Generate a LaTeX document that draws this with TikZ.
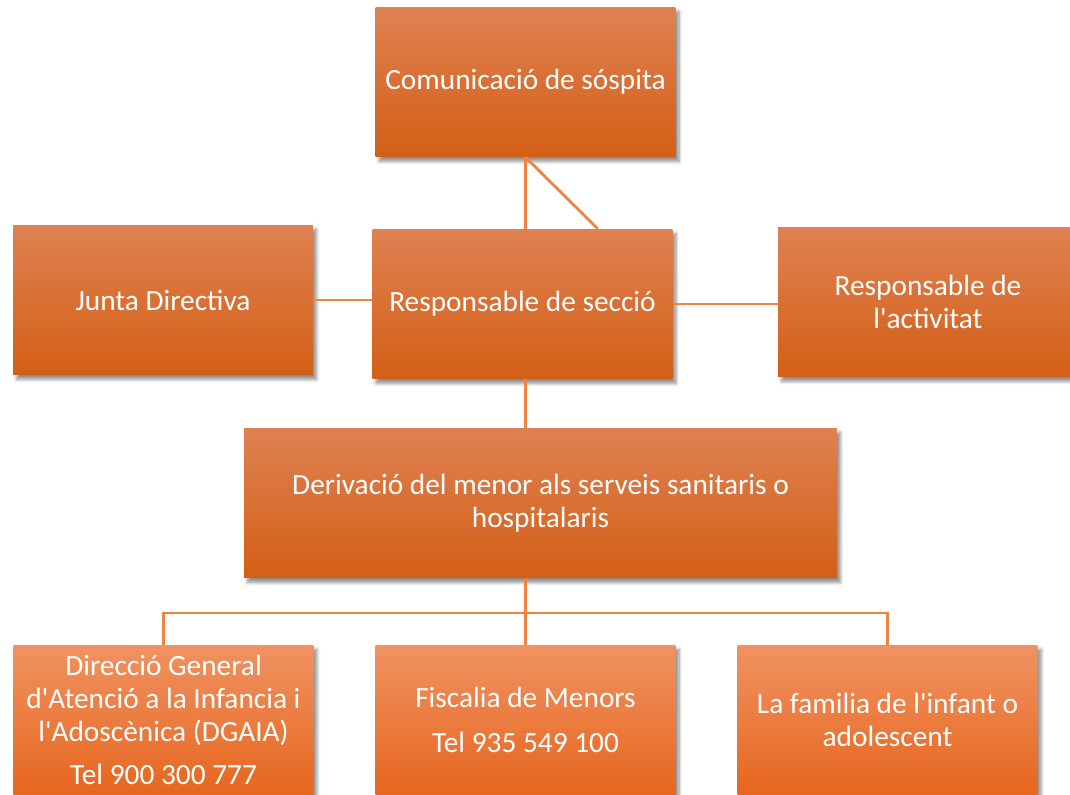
\documentclass[tikz,border=0pt]{standalone}
\usepackage{fontspec}
\setmainfont{Carlito}
\usetikzlibrary{calc,shadows.blur}
\definecolor{boxtop}{HTML}{DF8152}
\definecolor{boxbot}{HTML}{D35F16}
\definecolor{lowtop}{HTML}{F09262}
\definecolor{lowbot}{HTML}{E6661E}
\definecolor{linkcol}{HTML}{EE8440}
\tikzset{
  orgbox/.style={rectangle,minimum width=6cm,minimum height=3cm,inner sep=2pt,
    top color=boxtop,bottom color=boxbot,text=white,align=center,
    font=\fontsize{16.7}{18.8}\selectfont,
    blur shadow={shadow xshift=2pt,shadow yshift=-2.5pt,shadow blur steps=6,shadow opacity=45}},
  lowbox/.style={orgbox,top color=lowtop,bottom color=lowbot},
  link/.style={draw=linkcol,line width=1.6pt}
}
\begin{document}
\begin{tikzpicture}[x=0.02cm,y=-0.02cm]
\useasboundingbox (0,0) rectangle (1070,794);

\node[orgbox] (sosp)  at (525.5,82)  {Comunicació de sóspita};
\node[orgbox] (resp)  at (522.5,304) {Responsable de secció};
\node[orgbox] (junta) at (163,300)   {Junta Directiva};
\node[orgbox] (activ) at (928,302)   {Responsable de\\l\textquotesingle activitat};
\node[orgbox,minimum width=11.86cm] (deriv) at (540.5,503) {Derivació del menor als serveis sanitaris o\\hospitalaris};

\node[lowbox] (dgaia) at (163.5,720) {Direcció General\\d\textquotesingle Atenció a la Infancia i\\l\textquotesingle Adoscènica (DGAIA)\\[5.5pt]Tel 900 300 777};
\node[lowbox] (fisc)  at (525.5,720) {Fiscalia de Menors\\[6.5pt]Tel 935 549 100};
\node[lowbox] (famil) at (887.5,720) {La familia de l\textquotesingle infant o\\adolescent};

\coordinate (bus) at (525,613);

\draw[link] (sosp.south) -- (sosp.south |- resp.north);
\draw[link] (sosp.south) -- ($(resp.north west)!0.75!(resp.north east)$);
\draw[link] (junta.east) -- (junta.east -| resp.west);
\draw[link] (resp.east) -- (resp.east -| activ.west);
\draw[link] (sosp.south |- resp.south) -- (sosp.south |- deriv.north);
\draw[link] (fisc.north |- deriv.south) -- (fisc.north);
\draw[link] (dgaia.north) |- (bus) -| (famil.north);

\end{tikzpicture}
\end{document}
